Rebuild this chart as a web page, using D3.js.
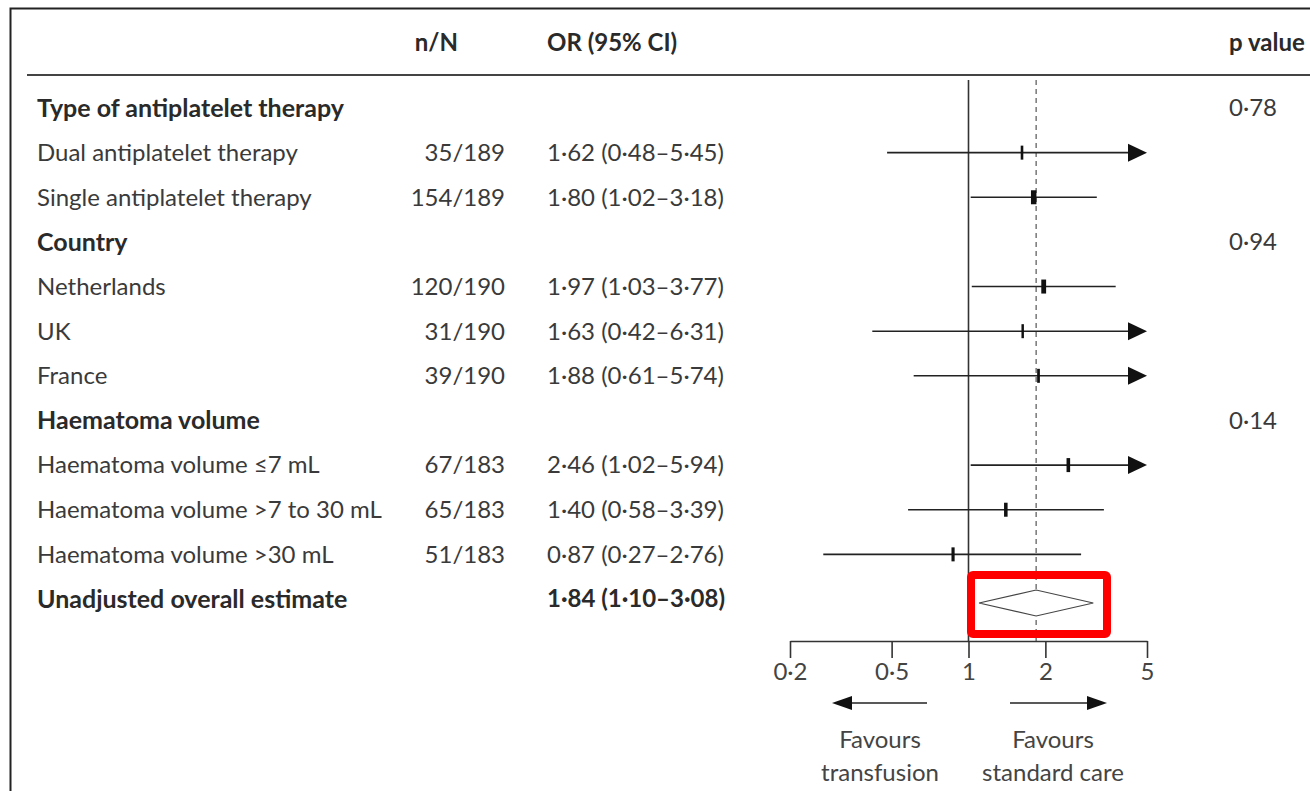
<!DOCTYPE html>
<html>
<head>
<meta charset="utf-8">
<script src="https://cdn.jsdelivr.net/npm/d3@7"></script>
<style>
  body { margin: 0; background: #fff; }
  svg { display: block; font-family: Lato, "Open Sans", sans-serif; }
</style>
</head>
<body>
<svg></svg>
<script>
const width = 1310
const height = 791

// rows top to bottom
const labels = ["Type of antiplatelet therapy", "Dual antiplatelet therapy", "Single antiplatelet therapy",
  "Country", "Netherlands", "UK", "France",
  "Haematoma volume", "Haematoma volume \u22647 mL", "Haematoma volume >7 to 30 mL", "Haematoma volume >30 mL",
  "Unadjusted overall estimate"]
const rowKind = ["head", "sub", "sub", "head", "sub", "sub", "sub", "head", "sub", "sub", "sub", "overall"]
const nN = [null, "35/189", "154/189", null, "120/190", "31/190", "39/190", null, "67/183", "65/183", "51/183", null]
const ors = [null, 1.62, 1.80, null, 1.97, 1.63, 1.88, null, 2.46, 1.40, 0.87, 1.84]
const lower = [null, 0.48, 1.02, null, 1.03, 0.42, 0.61, null, 1.02, 0.58, 0.27, 1.10]
const upper = [null, 5.45, 3.18, null, 3.77, 6.31, 5.74, null, 5.94, 3.39, 2.76, 3.08]
const pValues = ["0\u00b778", null, null, "0\u00b794", null, null, null, "0\u00b714", null, null, null, null]
const nCount = [null, 35, 154, null, 120, 31, 39, null, 67, 65, 51, null]
const tickValues = [0.2, 0.5, 1, 2, 5]

const fmt = v => d3.format(".2f")(v).replace(".", "\u00b7")
const fmtTick = v => String(v).replace(".", "\u00b7")

const svg = d3.select("svg")
  .attr("width", width)
  .attr("height", height)

const x = d3.scaleLog().domain([0.2, 5]).range([790, 1147])
const y = d3.scaleLinear().domain([0, labels.length - 1]).range([108, 599])
const axisY = 641
const textColor = "#3a3a3a"
const boldColor = "#2a2a2a"
const fs = 24

// frame
svg.append("path")
  .attr("d", "M10.5," + height + "V8.5H" + width)
  .attr("fill", "none").attr("stroke", "#222").attr("stroke-width", 2)

// header
const header = svg.append("g").attr("font-weight", "bold").attr("fill", boldColor).attr("font-size", fs)
header.append("text").attr("x", 458).attr("y", 43).attr("text-anchor", "end").attr("dy", "0.35em").text("n/N")
header.append("text").attr("x", 547).attr("y", 43).attr("dy", "0.35em").text("OR (95% CI)")
header.append("text").attr("x", 1229).attr("y", 43).attr("dy", "0.35em").text("p value")

svg.append("line")
  .attr("x1", 27).attr("x2", width).attr("y1", 75).attr("y2", 75)
  .attr("stroke", "#444").attr("stroke-width", 2)

// text columns
const rows = svg.append("g").attr("font-size", fs).attr("fill", textColor)
const idx = d3.range(labels.length)

rows.selectAll(".lab").data(idx).join("text")
  .attr("x", 37).attr("y", i => y(i)).attr("dy", "0.35em")
  .attr("font-weight", i => rowKind[i] === "sub" ? "normal" : "bold")
  .attr("font-size", i => rowKind[i] === "sub" ? fs : fs + 1)
  .attr("fill", i => rowKind[i] === "sub" ? textColor : boldColor)
  .text(i => labels[i])

rows.selectAll(".nn").data(idx.filter(i => nN[i])).join("text")
  .attr("x", 505).attr("y", i => y(i)).attr("dy", "0.35em").attr("text-anchor", "end")
  .text(i => nN[i])

rows.selectAll(".or").data(idx.filter(i => ors[i] != null)).join("text")
  .attr("x", 547).attr("y", i => y(i)).attr("dy", "0.35em")
  .attr("font-weight", i => rowKind[i] === "overall" ? "bold" : "normal")
  .attr("fill", i => rowKind[i] === "overall" ? boldColor : textColor)
  .text(i => fmt(ors[i]) + " (" + fmt(lower[i]) + "\u2013" + fmt(upper[i]) + ")")

rows.selectAll(".p").data(idx.filter(i => pValues[i])).join("text")
  .attr("x", 1229).attr("y", i => y(i)).attr("dy", "0.35em")
  .text(i => pValues[i])

// reference lines
const plot = svg.append("g")
plot.append("line")
  .attr("x1", x(1)).attr("x2", x(1)).attr("y1", 80).attr("y2", axisY)
  .attr("stroke", "#333").attr("stroke-width", 1.6)
plot.append("line")
  .attr("x1", x(1.84)).attr("x2", x(1.84)).attr("y1", 80).attr("y2", axisY)
  .attr("stroke", "#555").attr("stroke-width", 1.2).attr("stroke-dasharray", "5,4")

// CIs
const subs = idx.filter(i => rowKind[i] === "sub")
const xMax = x.domain()[1]
plot.selectAll(".ci").data(subs).join("line")
  .attr("x1", i => x(lower[i]))
  .attr("x2", i => upper[i] > xMax ? x(xMax) - 10 : x(upper[i]))
  .attr("y1", i => y(i)).attr("y2", i => y(i))
  .attr("stroke", "#222").attr("stroke-width", 1.6)

plot.selectAll(".arr").data(subs.filter(i => upper[i] > xMax)).join("path")
  .attr("d", i => {
    const tip = x(xMax), yy = y(i)
    return "M" + tip + "," + yy + "L" + (tip - 19) + "," + (yy - 9) + "L" + (tip - 19) + "," + (yy + 9) + "Z"
  })
  .attr("fill", "#111")

plot.selectAll(".pt").data(subs).join("rect")
  .attr("x", i => x(ors[i]) - Math.sqrt(nCount[i]) * 0.22)
  .attr("width", i => Math.sqrt(nCount[i]) * 0.44)
  .attr("y", i => y(i) - 7).attr("height", 14)
  .attr("fill", "#111")

// overall diamond
const ov = idx.filter(i => rowKind[i] === "overall")
plot.selectAll(".dia").data(ov).join("path")
  .attr("d", i => {
    const yy = y(i) + 4
    return "M" + x(lower[i]) + "," + yy + "L" + x(ors[i]) + "," + (yy - 13) +
      "L" + x(upper[i]) + "," + yy + "L" + x(ors[i]) + "," + (yy + 13) + "Z"
  })
  .attr("fill", "#fff").attr("stroke", "#444").attr("stroke-width", 1.2)

// highlight box
svg.append("rect")
  .attr("x", 971).attr("y", 575).attr("width", 136).attr("height", 59).attr("rx", 2)
  .attr("fill", "none").attr("stroke", "#ff0000").attr("stroke-width", 8)

// axis
const axis = svg.append("g")
  .attr("transform", "translate(0," + axisY + ")")
  .call(d3.axisBottom(x).tickValues(tickValues).tickFormat(fmtTick).tickSize(17).tickSizeOuter(0))
axis.select(".domain").attr("stroke", "#333").attr("stroke-width", 1.6)
axis.selectAll(".tick line").attr("stroke", "#333").attr("stroke-width", 1.6)
axis.selectAll(".tick text")
  .attr("font-family", "Lato, sans-serif").attr("font-size", fs).attr("fill", "#444").attr("dy", "0.78em")

// favours arrows
const fav = svg.append("g")
fav.append("line").attr("x1", 927).attr("x2", 850).attr("y1", 703).attr("y2", 703).attr("stroke", "#222").attr("stroke-width", 1.6)
fav.append("path").attr("d", "M832,703L852,696L852,710Z").attr("fill", "#111")
fav.append("line").attr("x1", 1010).attr("x2", 1088).attr("y1", 703).attr("y2", 703).attr("stroke", "#222").attr("stroke-width", 1.6)
fav.append("path").attr("d", "M1107,703L1087,696L1087,710Z").attr("fill", "#111")

const favText = fav.append("g").attr("font-size", fs).attr("fill", "#444").attr("text-anchor", "middle")
favText.append("text").attr("x", 880).attr("y", 740).attr("dy", "0.35em").text("Favours")
favText.append("text").attr("x", 880).attr("y", 773).attr("dy", "0.35em").text("transfusion")
favText.append("text").attr("x", 1053).attr("y", 740).attr("dy", "0.35em").text("Favours")
favText.append("text").attr("x", 1053).attr("y", 773).attr("dy", "0.35em").text("standard care")
</script>
</body>
</html>
